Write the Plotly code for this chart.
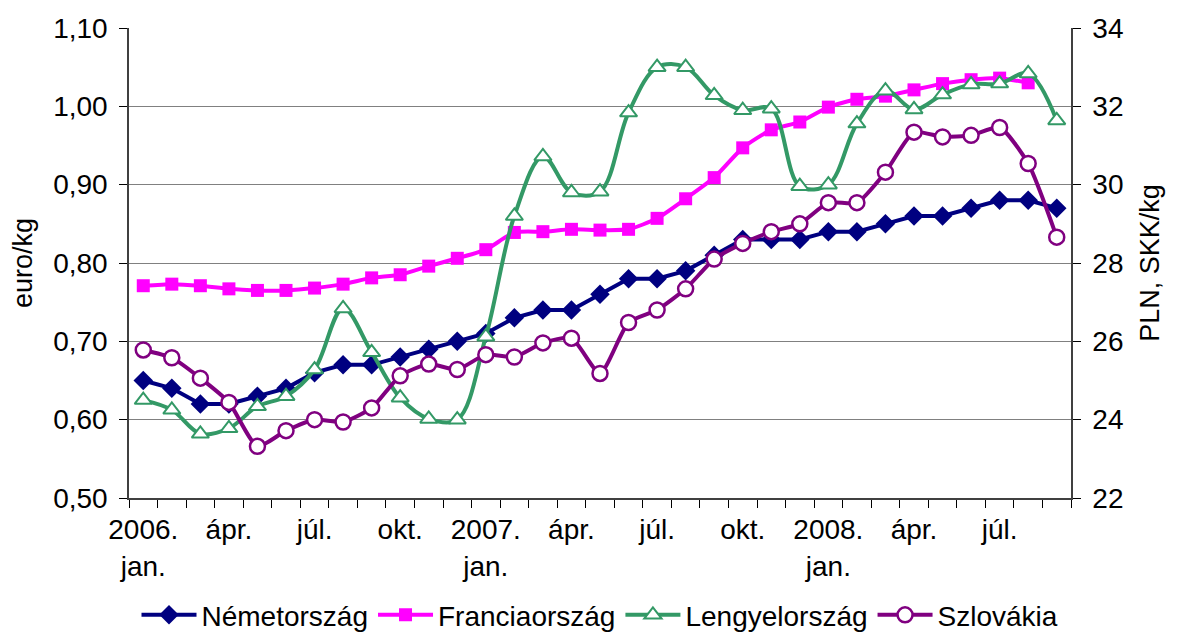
import plotly.graph_objects as go

# 2006 jan .. 2008 sep, monthly
months = [f"{y}-{m:02d}" for y in (2006, 2007, 2008) for m in range(1, 13)][:33]
tick_idx = [0, 3, 6, 9, 12, 15, 18, 21, 24, 27, 30]
tick_text = ["2006.<br>jan.", "ápr.", "júl.", "okt.", "2007.<br>jan.", "ápr.", "júl.",
             "okt.", "2008.<br>jan.", "ápr.", "júl."]

# euro/kg (left axis)
nemetorszag = [0.65, 0.64, 0.62, 0.62, 0.63, 0.64, 0.66, 0.67, 0.67, 0.68, 0.69, 0.70,
               0.71, 0.73, 0.74, 0.74, 0.76, 0.78, 0.78, 0.79, 0.81, 0.83, 0.83, 0.83,
               0.84, 0.84, 0.85, 0.86, 0.86, 0.87, 0.88, 0.88, 0.87]
franciaorszag = [0.771, 0.773, 0.771, 0.767, 0.765, 0.765, 0.768, 0.773, 0.781, 0.785, 0.796, 0.806,
                 0.817, 0.839, 0.840, 0.843, 0.842, 0.843, 0.857, 0.882, 0.909, 0.947, 0.970, 0.980,
                 0.999, 1.009, 1.013, 1.021, 1.029, 1.034, 1.036, 1.030]

# PLN, SKK/kg (right axis)
lengyelorszag = [24.50, 24.25, 23.64, 23.78, 24.34, 24.60, 25.28, 26.84, 25.72, 24.56, 24.02, 24.00,
                 26.12, 29.20, 30.72, 29.80, 29.82, 31.84, 33.00, 33.00, 32.28, 31.90, 31.94, 29.96,
                 30.00, 31.56, 32.40, 31.92, 32.30, 32.56, 32.58, 32.84, 31.64]
szlovakia = [25.78, 25.58, 25.06, 24.44, 23.32, 23.72, 24.00, 23.94, 24.30, 25.12, 25.42, 25.28,
             25.66, 25.60, 25.96, 26.08, 25.18, 26.48, 26.80, 27.34, 28.10, 28.50, 28.80, 29.00,
             29.54, 29.54, 30.32, 31.34, 31.22, 31.26, 31.46, 30.54, 28.66]

NAVY, PINK, GREEN, PURPLE = "#000080", "#FF00FF", "#339966", "#800080"
FONT = dict(family="Liberation Sans, Arial, sans-serif", size=28, color="black")

x = list(range(len(months)))

fig = go.Figure()
fig.add_trace(go.Scatter(
    x=x, y=nemetorszag, name="Németország", mode="lines+markers",
    line=dict(color=NAVY, width=4),
    marker=dict(symbol="diamond", size=15, color=NAVY),
))
fig.add_trace(go.Scatter(
    x=x[:len(franciaorszag)], y=franciaorszag, name="Franciaország", mode="lines+markers",
    line=dict(color=PINK, width=4, shape="spline", smoothing=0.6),
    marker=dict(symbol="square", size=13, color=PINK),
))
fig.add_trace(go.Scatter(
    x=x, y=lengyelorszag, name="Lengyelország", mode="lines+markers", yaxis="y2",
    line=dict(color=GREEN, width=4, shape="spline", smoothing=1),
    marker=dict(symbol="triangle-up", size=15, color="white", line=dict(color=GREEN, width=2)),
))
fig.add_trace(go.Scatter(
    x=x, y=szlovakia, name="Szlovákia", mode="lines+markers", yaxis="y2",
    line=dict(color=PURPLE, width=4, shape="spline", smoothing=0.6),
    marker=dict(symbol="circle", size=15, color="white", line=dict(color=PURPLE, width=2.5)),
))

# page body adds an 8px margin, so the figure is sized/offset to compensate
fig.update_layout(
    width=1169, height=624,
    margin=dict(l=121, r=106, t=20, b=134, autoexpand=False),
    paper_bgcolor="white", plot_bgcolor="white",
    font=FONT, separators=", ",
    showlegend=True,
    legend=dict(orientation="h", x=0.5, xanchor="center", y=0.027, yanchor="middle",
                yref="container", font=dict(size=28), itemwidth=55,
                tracegroupgap=0, bgcolor="rgba(0,0,0,0)"),
    xaxis=dict(
        range=[-0.5, len(months) - 0.5], tickmode="array", tickvals=tick_idx, ticktext=tick_text,
        ticks="", showgrid=False, zeroline=False, automargin=False,
        showline=True, linecolor="#404040", linewidth=1.5, ticklabelstandoff=6,
        minor=dict(tick0=-0.5, dtick=1, ticks="outside", ticklen=8, tickcolor="black", showgrid=False),
        tickfont=FONT,
    ),
    yaxis=dict(
        range=[0.5, 1.1], dtick=0.1, tickformat=".2f", automargin=False,
        showgrid=True, gridcolor="#808080", gridwidth=1, zeroline=False,
        showline=True, linecolor="#404040", linewidth=1.5,
        ticks="outside", ticklen=8, tickcolor="black", ticklabelstandoff=6,
        title=dict(text="euro/kg", font=dict(size=27), standoff=24),
        tickfont=FONT,
    ),
    yaxis2=dict(
        range=[22, 34], dtick=2, overlaying="y", side="right", automargin=False,
        showgrid=False, zeroline=False,
        showline=True, linecolor="#404040", linewidth=1.5,
        ticks="outside", ticklen=8, tickcolor="black", ticklabelstandoff=6,
        title=dict(text="PLN, SKK/kg", font=dict(size=27), standoff=18),
        tickfont=FONT,
    ),
)

fig.write_html("out.html")
